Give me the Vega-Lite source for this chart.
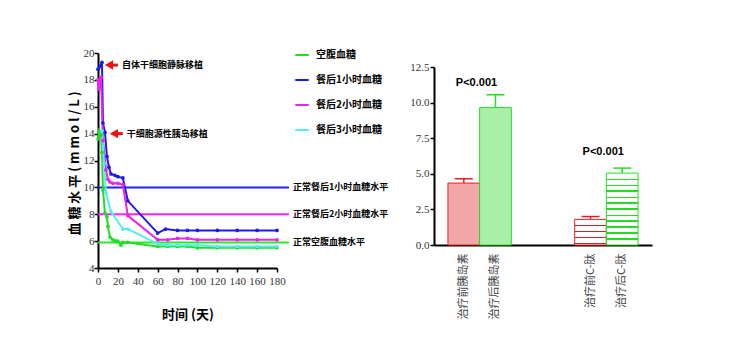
{
  "$schema": "https://vega.github.io/schema/vega-lite/v6.json",
  "background": "white",
  "padding": {"left": 68, "top": 47, "right": 5, "bottom": 5},
  "spacing": 157,
  "bounds": "flush",
  "config": {
    "view": {"stroke": null},
    "font": "Liberation Sans Narrow",
    "axis": {
      "domainColor": "black",
      "domainWidth": 2,
      "tickColor": "black",
      "tickWidth": 1.5,
      "tickSize": 4,
      "labelFont": "Liberation Sans Narrow",
      "labelFontSize": 11,
      "labelColor": "#333333",
      "labelOverlap": false,
      "labelFlush": false,
      "grid": false,
      "titleFont": "Noto Sans CJK SC",
      "titleFontWeight": "bold",
      "titleFontSize": 13,
      "titleColor": "black"
    }
  },
  "hconcat": [
    {
      "width": 179,
      "height": 215,
      "resolve": {"scale": {"color": "independent"}},
      "layer": [
        {
          "data": {
            "values": [
              {"name": "正常餐后1小时血糖水平", "value": 10, "day": 0, "dayEnd": 192},
              {"name": "正常餐后2小时血糖水平", "value": 8, "day": 0, "dayEnd": 192},
              {"name": "正常空腹血糖水平", "value": 5.9, "day": 0, "dayEnd": 192}
            ]
          },
          "layer": [
            {
              "mark": {"type": "rule", "strokeWidth": 2},
              "encoding": {
                "x": {"field": "day", "type": "quantitative", "scale": {"domain": [0, 180], "nice": false}, "title": "时间 (天)", "axis": {"values": [0, 20, 40, 60, 80, 100, 120, 140, 160, 180], "labelPadding": 3, "titlePadding": 22}},
                "x2": {"field": "dayEnd"},
                "y": {"field": "value", "type": "quantitative", "scale": {"domain": [4, 20], "nice": false}, "title": "血  糖  水  平   ( m m o l / L )", "axis": {"values": [4, 6, 8, 10, 12, 14, 16, 18, 20], "labelPadding": 0, "titlePadding": 2, "titleY": 110}},
                "color": {
                  "field": "name",
                  "type": "nominal",
                  "scale": {"domain": ["正常餐后1小时血糖水平", "正常餐后2小时血糖水平", "正常空腹血糖水平"], "range": ["#2323ee", "#ff22ff", "#22ee22"]},
                  "legend": null
                }
              }
            },
            {
              "mark": {"type": "text", "align": "left", "baseline": "middle", "dx": 4, "font": "Noto Sans CJK SC", "fontSize": 9, "fontWeight": "bold", "color": "black"},
              "encoding": {
                "x": {"field": "dayEnd", "type": "quantitative", "scale": {"domain": [0, 180], "nice": false}, "title": "时间 (天)", "axis": {"values": [0, 20, 40, 60, 80, 100, 120, 140, 160, 180], "labelPadding": 3, "titlePadding": 22}},
                "y": {"field": "value", "type": "quantitative", "scale": {"domain": [4, 20], "nice": false}, "title": "血  糖  水  平   ( m m o l / L )", "axis": {"values": [4, 6, 8, 10, 12, 14, 16, 18, 20], "labelPadding": 0, "titlePadding": 2, "titleY": 110}},
                "text": {"field": "name"}
              }
            }
          ]
        },
        {
          "data": {
            "values": [
              {"series": "空腹血糖", "day": 0, "value": 13.6},
              {"series": "空腹血糖", "day": 1, "value": 14.2},
              {"series": "空腹血糖", "day": 3, "value": 13.9},
              {"series": "空腹血糖", "day": 4, "value": 12.6},
              {"series": "空腹血糖", "day": 5, "value": 9.8},
              {"series": "空腹血糖", "day": 7, "value": 8.1},
              {"series": "空腹血糖", "day": 9, "value": 7.8},
              {"series": "空腹血糖", "day": 10, "value": 7.1},
              {"series": "空腹血糖", "day": 12, "value": 6.3},
              {"series": "空腹血糖", "day": 15, "value": 6.1},
              {"series": "空腹血糖", "day": 18, "value": 6.0},
              {"series": "空腹血糖", "day": 20, "value": 6.0},
              {"series": "空腹血糖", "day": 23, "value": 5.7},
              {"series": "空腹血糖", "day": 25, "value": 5.9},
              {"series": "空腹血糖", "day": 30, "value": 5.9},
              {"series": "空腹血糖", "day": 60, "value": 5.6},
              {"series": "空腹血糖", "day": 70, "value": 5.6},
              {"series": "空腹血糖", "day": 80, "value": 5.6},
              {"series": "空腹血糖", "day": 90, "value": 5.6},
              {"series": "空腹血糖", "day": 100, "value": 5.5},
              {"series": "空腹血糖", "day": 120, "value": 5.5},
              {"series": "空腹血糖", "day": 140, "value": 5.5},
              {"series": "空腹血糖", "day": 160, "value": 5.5},
              {"series": "空腹血糖", "day": 180, "value": 5.5},
              {"series": "餐后1小时血糖", "day": 0, "value": 18.8},
              {"series": "餐后1小时血糖", "day": 2, "value": 19.0},
              {"series": "餐后1小时血糖", "day": 4, "value": 19.3},
              {"series": "餐后1小时血糖", "day": 5, "value": 14.8},
              {"series": "餐后1小时血糖", "day": 7, "value": 14.1},
              {"series": "餐后1小时血糖", "day": 9, "value": 12.3},
              {"series": "餐后1小时血糖", "day": 11, "value": 11.5},
              {"series": "餐后1小时血糖", "day": 13, "value": 11.0},
              {"series": "餐后1小时血糖", "day": 17, "value": 10.9},
              {"series": "餐后1小时血糖", "day": 20, "value": 10.8},
              {"series": "餐后1小时血糖", "day": 25, "value": 10.7},
              {"series": "餐后1小时血糖", "day": 30, "value": 9.0},
              {"series": "餐后1小时血糖", "day": 60, "value": 6.6},
              {"series": "餐后1小时血糖", "day": 68, "value": 6.9},
              {"series": "餐后1小时血糖", "day": 80, "value": 6.8},
              {"series": "餐后1小时血糖", "day": 90, "value": 6.8},
              {"series": "餐后1小时血糖", "day": 100, "value": 6.8},
              {"series": "餐后1小时血糖", "day": 120, "value": 6.8},
              {"series": "餐后1小时血糖", "day": 140, "value": 6.8},
              {"series": "餐后1小时血糖", "day": 160, "value": 6.8},
              {"series": "餐后1小时血糖", "day": 180, "value": 6.8},
              {"series": "餐后2小时血糖", "day": 0, "value": 18.0},
              {"series": "餐后2小时血糖", "day": 1, "value": 17.3},
              {"series": "餐后2小时血糖", "day": 3, "value": 18.2},
              {"series": "餐后2小时血糖", "day": 5, "value": 13.5},
              {"series": "餐后2小时血糖", "day": 8, "value": 11.3},
              {"series": "餐后2小时血糖", "day": 10, "value": 10.6},
              {"series": "餐后2小时血糖", "day": 12, "value": 10.4},
              {"series": "餐后2小时血糖", "day": 15, "value": 10.3},
              {"series": "餐后2小时血糖", "day": 20, "value": 10.3},
              {"series": "餐后2小时血糖", "day": 25, "value": 10.2},
              {"series": "餐后2小时血糖", "day": 30, "value": 7.9},
              {"series": "餐后2小时血糖", "day": 60, "value": 6.1},
              {"series": "餐后2小时血糖", "day": 70, "value": 6.1},
              {"series": "餐后2小时血糖", "day": 80, "value": 6.2},
              {"series": "餐后2小时血糖", "day": 90, "value": 6.2},
              {"series": "餐后2小时血糖", "day": 100, "value": 6.1},
              {"series": "餐后2小时血糖", "day": 120, "value": 6.1},
              {"series": "餐后2小时血糖", "day": 140, "value": 6.1},
              {"series": "餐后2小时血糖", "day": 160, "value": 6.1},
              {"series": "餐后2小时血糖", "day": 180, "value": 6.1},
              {"series": "餐后3小时血糖", "day": 4, "value": 14.2},
              {"series": "餐后3小时血糖", "day": 6, "value": 11.8},
              {"series": "餐后3小时血糖", "day": 8, "value": 9.6},
              {"series": "餐后3小时血糖", "day": 13, "value": 8.2},
              {"series": "餐后3小时血糖", "day": 25, "value": 6.9},
              {"series": "餐后3小时血糖", "day": 30, "value": 6.9},
              {"series": "餐后3小时血糖", "day": 60, "value": 5.8},
              {"series": "餐后3小时血糖", "day": 70, "value": 5.7},
              {"series": "餐后3小时血糖", "day": 80, "value": 5.7},
              {"series": "餐后3小时血糖", "day": 90, "value": 5.7},
              {"series": "餐后3小时血糖", "day": 100, "value": 5.7},
              {"series": "餐后3小时血糖", "day": 120, "value": 5.6},
              {"series": "餐后3小时血糖", "day": 140, "value": 5.6},
              {"series": "餐后3小时血糖", "day": 160, "value": 5.6},
              {"series": "餐后3小时血糖", "day": 180, "value": 5.6}
            ]
          },
          "mark": {"type": "line", "strokeWidth": 2, "point": {"filled": true, "size": 14}},
          "encoding": {
            "x": {
              "field": "day", "type": "quantitative",
              "scale": {"domain": [0, 180], "nice": false},
              "title": "时间 (天)",
              "axis": {"values": [0, 20, 40, 60, 80, 100, 120, 140, 160, 180], "labelPadding": 3, "titlePadding": 22}
            },
            "y": {
              "field": "value", "type": "quantitative",
              "scale": {"domain": [4, 20], "nice": false},
              "title": "血  糖  水  平   ( m m o l / L )",
              "axis": {"values": [4, 6, 8, 10, 12, 14, 16, 18, 20], "labelPadding": 0, "titlePadding": 2, "titleY": 110}
            },
            "color": {
              "field": "series", "type": "nominal",
              "scale": {"domain": ["空腹血糖", "餐后1小时血糖", "餐后2小时血糖", "餐后3小时血糖"], "range": ["#22dd22", "#1c1ce6", "#ee22ee", "#55eeee"]},
              "legend": {
                "title": null, "orient": "none", "legendX": 196, "legendY": -6,
                "symbolType": "stroke", "symbolStrokeWidth": 2, "symbolSize": 180,
                "labelFont": "Noto Sans CJK SC", "labelFontSize": 10, "labelFontWeight": "bold",
                "labelColor": "black", "rowPadding": 12, "labelOffset": 6
              }
            }
          }
        },
        {
          "data": {
            "values": [
              {"label": "自体干细胞静脉移植", "head": 11, "tail": 20, "value": 19.1},
              {"label": "干细胞源性胰岛移植", "head": 16, "tail": 25, "value": 14.0}
            ]
          },
          "layer": [
            {
              "mark": {"type": "rule", "strokeWidth": 3, "color": "#ee1111"},
              "encoding": {
                "x": {"field": "head", "type": "quantitative", "scale": {"domain": [0, 180], "nice": false}, "title": "时间 (天)", "axis": {"values": [0, 20, 40, 60, 80, 100, 120, 140, 160, 180], "labelPadding": 3, "titlePadding": 22}},
                "x2": {"field": "tail"},
                "y": {"field": "value", "type": "quantitative", "scale": {"domain": [4, 20], "nice": false}, "title": "血  糖  水  平   ( m m o l / L )", "axis": {"values": [4, 6, 8, 10, 12, 14, 16, 18, 20], "labelPadding": 0, "titlePadding": 2, "titleY": 110}}
              }
            },
            {
              "mark": {"type": "point", "shape": "triangle-left", "filled": true, "size": 90, "color": "#ee1111", "opacity": 1},
              "encoding": {
                "x": {"field": "head", "type": "quantitative", "scale": {"domain": [0, 180], "nice": false}, "title": "时间 (天)", "axis": {"values": [0, 20, 40, 60, 80, 100, 120, 140, 160, 180], "labelPadding": 3, "titlePadding": 22}},
                "y": {"field": "value", "type": "quantitative", "scale": {"domain": [4, 20], "nice": false}, "title": "血  糖  水  平   ( m m o l / L )", "axis": {"values": [4, 6, 8, 10, 12, 14, 16, 18, 20], "labelPadding": 0, "titlePadding": 2, "titleY": 110}}
              }
            },
            {
              "mark": {"type": "text", "align": "left", "baseline": "middle", "dx": 4, "font": "Noto Sans CJK SC", "fontSize": 9, "fontWeight": "bold", "color": "black"},
              "encoding": {
                "x": {"field": "tail", "type": "quantitative", "scale": {"domain": [0, 180], "nice": false}, "title": "时间 (天)", "axis": {"values": [0, 20, 40, 60, 80, 100, 120, 140, 160, 180], "labelPadding": 3, "titlePadding": 22}},
                "y": {"field": "value", "type": "quantitative", "scale": {"domain": [4, 20], "nice": false}, "title": "血  糖  水  平   ( m m o l / L )", "axis": {"values": [4, 6, 8, 10, 12, 14, 16, 18, 20], "labelPadding": 0, "titlePadding": 2, "titleY": 110}},
                "text": {"field": "label"}
              }
            }
          ]
        }
      ]
    },
    {
      "spacing": 4,
      "vconcat": [
        {
          "width": 218,
          "height": 1,
          "data": {"values": [{}]},
          "mark": {"type": "point", "opacity": 0},
          "encoding": {}
        },
        {
          "width": 218,
          "height": 178,
          "data": {
            "values": [
              {"label": "治疗前胰岛素", "phase": "治疗前", "value": 4.35, "err": 4.65, "p": "", "pPos": 0},
              {"label": "治疗后胰岛素", "phase": "治疗后", "value": 9.65, "err": 10.55, "p": "P<0.001", "pPos": 11.35},
              {"label": "治疗前C-肽", "phase": "治疗前", "value": 1.8, "err": 2.0, "p": "", "pPos": 0},
              {"label": "治疗后C-肽", "phase": "治疗后", "value": 5.05, "err": 5.4, "p": "P<0.001", "pPos": 6.55}
            ]
          },
          "encoding": {
            "x": {
              "field": "label", "type": "nominal", "sort": null,
              "scale": {"domain": ["治疗前胰岛素", "治疗后胰岛素", " ", "  ", "治疗前C-肽", "治疗后C-肽"], "paddingInner": 0, "paddingOuter": 0.44},
              "axis": {"title": null, "labelAngle": -90, "ticks": false, "labelFont": "Noto Sans CJK SC", "labelFontSize": 11, "labelPadding": 8, "labelColor": "#444444"}
            }
          },
          "layer": [
            {
              "transform": [{"filter": "datum.label === '治疗前胰岛素'"}],
              "mark": {"type": "bar", "fill": "#f3a6a6", "stroke": "#e02020", "strokeWidth": 1},
              "encoding": {"y": {"field": "value", "type": "quantitative", "scale": {"domain": [0, 12.5], "nice": false}, "axis": {"values": [0, 2.5, 5, 7.5, 10, 12.5], "format": ".1f", "title": null, "labelPadding": 1}}}
            },
            {
              "transform": [{"filter": "datum.label === '治疗后胰岛素'"}],
              "mark": {"type": "bar", "fill": "#a8f0a8", "stroke": "#22dd22", "strokeWidth": 1},
              "encoding": {"y": {"field": "value", "type": "quantitative", "scale": {"domain": [0, 12.5], "nice": false}, "axis": {"values": [0, 2.5, 5, 7.5, 10, 12.5], "format": ".1f", "title": null, "labelPadding": 1}}}
            },
            {
              "transform": [{"filter": "datum.label === '治疗前C-肽'"}],
              "mark": {
                "type": "bar", "stroke": "#e02020", "strokeWidth": 1,
                "fill": {"gradient": "linear", "x1": 0, "y1": 0, "x2": 0, "y2": 1, "stops": [
                  {"offset": 0, "color": "#ffffff"}, {"offset": 0.21, "color": "#ffffff"}, {"offset": 0.21, "color": "#e02020"}, {"offset": 0.255, "color": "#e02020"}, {"offset": 0.255, "color": "#ffffff"},
                  {"offset": 0.445, "color": "#ffffff"}, {"offset": 0.445, "color": "#e02020"}, {"offset": 0.49, "color": "#e02020"}, {"offset": 0.49, "color": "#ffffff"},
                  {"offset": 0.68, "color": "#ffffff"}, {"offset": 0.68, "color": "#e02020"}, {"offset": 0.725, "color": "#e02020"}, {"offset": 0.725, "color": "#ffffff"},
                  {"offset": 0.915, "color": "#ffffff"}, {"offset": 0.915, "color": "#e02020"}, {"offset": 0.96, "color": "#e02020"}, {"offset": 0.96, "color": "#ffffff"}, {"offset": 1, "color": "#ffffff"}
                ]}
              },
              "encoding": {"y": {"field": "value", "type": "quantitative", "scale": {"domain": [0, 12.5], "nice": false}, "axis": {"values": [0, 2.5, 5, 7.5, 10, 12.5], "format": ".1f", "title": null, "labelPadding": 1}}}
            },
            {
              "transform": [{"filter": "datum.label === '治疗后C-肽'"}],
              "mark": {
                "type": "bar", "stroke": "#22dd22", "strokeWidth": 1,
                "fill": {"gradient": "linear", "x1": 0, "y1": 0, "x2": 0, "y2": 1, "stops": [
                  {"offset": 0, "color": "#ffffff"},
                  {"offset": 0.076, "color": "#ffffff"}, {"offset": 0.076, "color": "#22dd22"}, {"offset": 0.092, "color": "#22dd22"}, {"offset": 0.092, "color": "#ffffff"},
                  {"offset": 0.159, "color": "#ffffff"}, {"offset": 0.159, "color": "#22dd22"}, {"offset": 0.175, "color": "#22dd22"}, {"offset": 0.175, "color": "#ffffff"},
                  {"offset": 0.242, "color": "#ffffff"}, {"offset": 0.242, "color": "#22dd22"}, {"offset": 0.258, "color": "#22dd22"}, {"offset": 0.258, "color": "#ffffff"},
                  {"offset": 0.326, "color": "#ffffff"}, {"offset": 0.326, "color": "#22dd22"}, {"offset": 0.342, "color": "#22dd22"}, {"offset": 0.342, "color": "#ffffff"},
                  {"offset": 0.409, "color": "#ffffff"}, {"offset": 0.409, "color": "#22dd22"}, {"offset": 0.425, "color": "#22dd22"}, {"offset": 0.425, "color": "#ffffff"},
                  {"offset": 0.492, "color": "#ffffff"}, {"offset": 0.492, "color": "#22dd22"}, {"offset": 0.508, "color": "#22dd22"}, {"offset": 0.508, "color": "#ffffff"},
                  {"offset": 0.576, "color": "#ffffff"}, {"offset": 0.576, "color": "#22dd22"}, {"offset": 0.592, "color": "#22dd22"}, {"offset": 0.592, "color": "#ffffff"},
                  {"offset": 0.659, "color": "#ffffff"}, {"offset": 0.659, "color": "#22dd22"}, {"offset": 0.675, "color": "#22dd22"}, {"offset": 0.675, "color": "#ffffff"},
                  {"offset": 0.742, "color": "#ffffff"}, {"offset": 0.742, "color": "#22dd22"}, {"offset": 0.758, "color": "#22dd22"}, {"offset": 0.758, "color": "#ffffff"},
                  {"offset": 0.826, "color": "#ffffff"}, {"offset": 0.826, "color": "#22dd22"}, {"offset": 0.842, "color": "#22dd22"}, {"offset": 0.842, "color": "#ffffff"},
                  {"offset": 0.909, "color": "#ffffff"}, {"offset": 0.909, "color": "#22dd22"}, {"offset": 0.925, "color": "#22dd22"}, {"offset": 0.925, "color": "#ffffff"},
                  {"offset": 1, "color": "#ffffff"}
                ]}
              },
              "encoding": {"y": {"field": "value", "type": "quantitative", "scale": {"domain": [0, 12.5], "nice": false}, "axis": {"values": [0, 2.5, 5, 7.5, 10, 12.5], "format": ".1f", "title": null, "labelPadding": 1}}}
            },
            {
              "mark": {"type": "rule", "strokeWidth": 1.5},
              "encoding": {
                "y": {"field": "value", "type": "quantitative", "scale": {"domain": [0, 12.5], "nice": false}, "axis": {"values": [0, 2.5, 5, 7.5, 10, 12.5], "format": ".1f", "title": null, "labelPadding": 1}},
                "y2": {"field": "err"},
                "color": {"field": "phase", "type": "nominal", "scale": {"domain": ["治疗前", "治疗后"], "range": ["#e02020", "#22dd22"]}, "legend": null}
              }
            },
            {
              "mark": {"type": "tick", "size": 18, "thickness": 1.5, "opacity": 1},
              "encoding": {
                "y": {"field": "err", "type": "quantitative", "scale": {"domain": [0, 12.5], "nice": false}, "axis": {"values": [0, 2.5, 5, 7.5, 10, 12.5], "format": ".1f", "title": null, "labelPadding": 1}},
                "color": {"field": "phase", "type": "nominal", "scale": {"domain": ["治疗前", "治疗后"], "range": ["#e02020", "#22dd22"]}, "legend": null}
              }
            },
            {
              "transform": [{"filter": "datum.p !== ''"}],
              "mark": {"type": "text", "font": "Liberation Sans", "fontWeight": "bold", "fontSize": 11, "dx": -19, "baseline": "middle", "color": "black"},
              "encoding": {
                "y": {"field": "pPos", "type": "quantitative", "scale": {"domain": [0, 12.5], "nice": false}, "axis": {"values": [0, 2.5, 5, 7.5, 10, 12.5], "format": ".1f", "title": null, "labelPadding": 1}},
                "text": {"field": "p"}
              }
            }
          ]
        }
      ]
    }
  ]
}
